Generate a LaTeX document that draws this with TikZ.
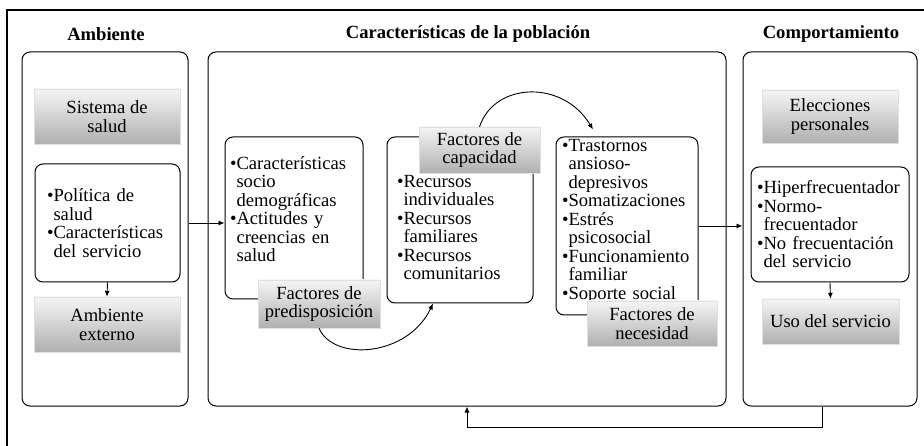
\documentclass[tikz,border=0pt]{standalone}
\usepackage{fontspec}
\setmainfont{Liberation Serif}
\usetikzlibrary{arrows.meta}
\newcommand{\itm}{\textbullet}
\newcommand{\ind}{\hphantom{\textbullet}}
\begin{document}
\begin{tikzpicture}
    [x=1pt, y=-1pt,
    every node/.style={font=\fontsize{18.6}{18.5}\selectfont},
    title/.style={font=\fontsize{18.6}{18.5}\selectfont\bfseries},
    panel/.style={draw, line width=1pt, rounded corners=8pt, minimum height=354pt},
    items/.style={draw, line width=1pt, rounded corners=8pt, fill=white, align=left, inner sep=0pt},
    tag/.style={draw=gray!25, top color=gray!8, bottom color=gray!62, align=center, inner sep=0pt},
    link/.style={-{Latex[length=6pt,width=5pt]}, line width=0.9pt}]
  \useasboundingbox (0,0) rectangle (924,446);
  \draw [line width=2pt] (7,446) -- (7,10) -- (924,10);

  \node [title] (tamb) at (106,34) {Ambiente};
  \node [title] (tpob) at (468,34) {Características de la población};
  \node [title] (tcom) at (831,34) {Comportamiento};

  \node [panel, minimum width=166pt] (amb) at (105,229) {};
  \node [panel, minimum width=518pt] (pob) at (467,229) {};
  \node [panel, minimum width=174pt] (com) at (830,229) {};

  \node [items, minimum width=145pt, minimum height=118pt, text width=121pt] (poli) at (107.5,223)
    {\itm Política de\\ \ind salud\\ \itm Características\\ \ind del servicio};
  \node [items, minimum width=138pt, minimum height=162pt, text width=128pt] (pre) at (294,218)
    {\itm Características\\ \ind socio\\ \ind demográficas\\ \itm Actitudes y\\ \ind creencias en\\ \ind salud\rule[-18pt]{0pt}{1pt}};
  \node [items, minimum width=146pt, minimum height=166pt, text width=126pt] (cap) at (460,220)
    {\rule{0pt}{27pt}\itm Recursos\\ \ind individuales\\ \itm Recursos\\ \ind familiares\\ \itm Recursos\\ \ind comunitarios};
  \node [items, minimum width=142pt, minimum height=178pt, text width=130pt] (nec) at (627,226)
    {\itm Trastornos\\ \ind ansioso-\\ \ind depresivos\\ \itm Somatizaciones\\ \itm Estrés\\ \ind psicosocial\\ \itm Funcionamiento\\ \ind familiar\\ \itm Soporte social\rule[-14pt]{0pt}{1pt}};
  \node [items, minimum width=158pt, minimum height=115pt, text width=146pt] (hip) at (830,224.5)
    {\itm Hiperfrecuentador\\ \itm Normo-\\ \ind frecuentador\\ \itm No frecuentación\\ \ind del servicio};

  \node [tag, minimum width=146pt, minimum height=55pt] (sis) at (107,116.5) {Sistema de\\salud};
  \node [tag, minimum width=146pt, minimum height=55pt] (ext) at (107,324.5) {Ambiente\\externo};
  \node [tag, minimum width=122pt, minimum height=48pt] (fpre) at (319,304) {Factores de\\predisposición};
  \node [tag, minimum width=121pt, minimum height=46pt] (fcap) at (479.5,150) {Factores de\\capacidad};
  \node [tag, minimum width=130pt, minimum height=45pt] (fnec) at (652,323.5) {Factores de\\necesidad};
  \node [tag, minimum width=136pt, minimum height=53pt] (ele) at (830,116.5) {Elecciones\\personales};
  \node [tag, minimum width=137pt, minimum height=45pt] (uso) at (830.5,321.5) {Uso del servicio};

  \draw [link] (poli.south) -- (ext.north);
  \draw [link] (hip.south) -- (uso.north);
  \draw [link] (poli.east -| amb.east) -- (poli.east -| pre.west);
  \draw [link] (nec.east) -- (nec.east -| com.west);
  \draw [link] ([xshift=-8pt]com.south) -- ++(0,21) -| (pob.south);
  \draw [link] (fpre.south) .. controls +(15,34) and +(-25,53) .. ([xshift=-27pt]cap.south);
  \draw [link] (fcap.north) .. controls +(15,-45) and +(-30,-50) .. ([xshift=-34pt,yshift=7pt]nec.north);
\end{tikzpicture}
\end{document}
